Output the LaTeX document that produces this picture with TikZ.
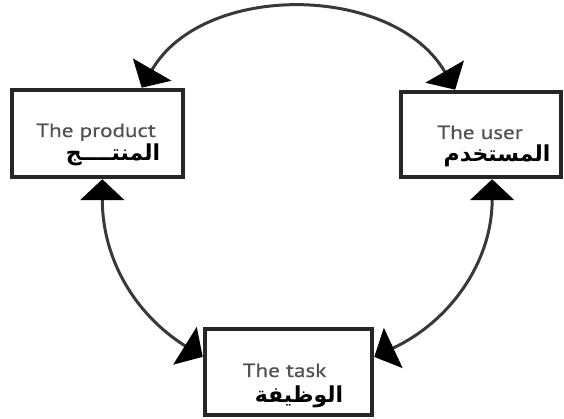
\documentclass[tikz,border=0pt]{standalone}
\usepackage{fontspec}
\setmainfont{PT Sans}
\newfontfamily\latinfont[FakeStretch=1.22,FakeBold=0.6]{PT Sans}
\newfontfamily\arabicfont[Script=Arabic]{DejaVu Sans}
\TeXXeTstate=1
\usetikzlibrary{arrows.meta}

\tikzset{
    box/.style={draw=black!85, line width=4.5pt, minimum height=86pt, inner sep=0pt},
    entext/.style={anchor=base, inner sep=0pt, text=black!68,
        font=\latinfont\fontsize{19}{21}\selectfont},
    artext/.style={anchor=base, inner sep=0pt, text=black,
        font=\arabicfont\bfseries\fontsize{22}{24}\selectfont},
    link/.style={draw=black!78, line width=3pt,
        {Triangle[length=21pt,width=44pt,color=black]}-{Triangle[length=21pt,width=44pt,color=black]}}
}

\begin{document}
\begin{tikzpicture}[x=1pt,y=1pt]
    \useasboundingbox (0,0) rectangle (564,419);
    % the three boxes
    \node[box, minimum width=171pt, minimum height=87pt] (product) at (97.5,285.5) {};
    \node[box, minimum width=160pt, minimum height=85pt] (user) at (481,284.5) {};
    \node[box, minimum width=167pt] (task) at (288.5,47) {};
    % texts
    \node[entext] (productEn) at (96,282) {The product};
    \node[artext] (productAr) at (113,258) {\beginR المنتــــج\endR};
    \node[entext] (userEn) at (480,280) {The user};
    \node[artext] (userAr) at (497,257) {\beginR المستخدم\endR};
    \node[entext] (taskEn) at (284.5,42) {The task};
    \node[artext] (taskAr) at (299,16) {\beginR الوظيفة\endR};
    % arcs
    \draw[link] (product.46) to[out=60,in=120] (user.120);
    \draw[link] (product.-84) to[out=-90,in=148] (task.170);
    \draw[link] (user.-76) to[out=-90,in=25] (task.10);
\end{tikzpicture}
\end{document}
